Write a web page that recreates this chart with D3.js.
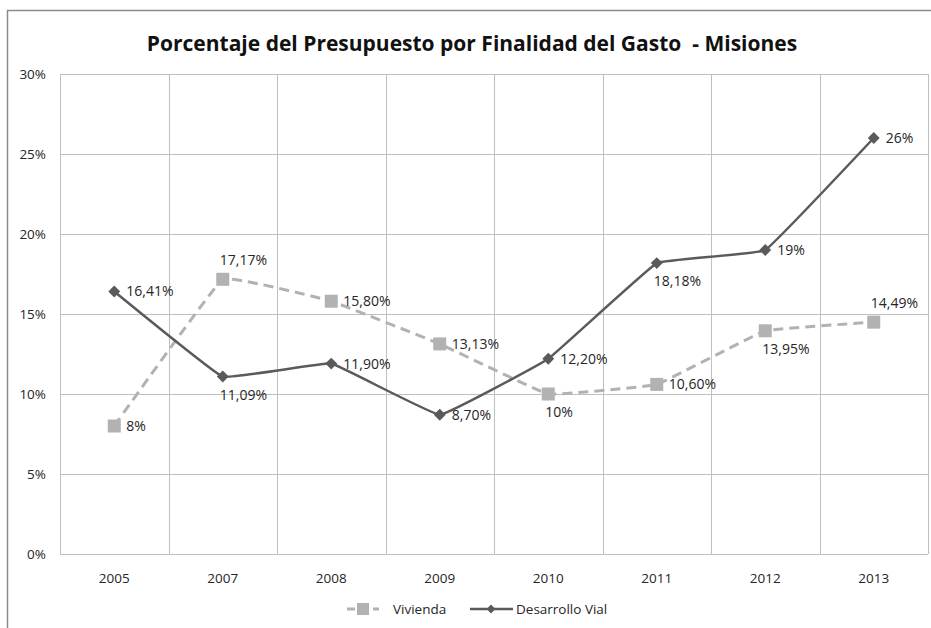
<!DOCTYPE html>
<html>
<head>
<meta charset="utf-8">
<script src="https://cdn.jsdelivr.net/npm/d3@7"></script>
<style>
  body { margin: 0; background: #fff; }
  svg { display: block; font-family: "Open Sans", "Noto Sans", sans-serif; }
</style>
</head>
<body>
<svg id="chart" width="931" height="628"></svg>
<script>
/* data */
const years = ["2005", "2007", "2008", "2009", "2010", "2011", "2012", "2013"];
const vivienda = [8, 17.17, 15.80, 13.13, 10, 10.60, 13.95, 14.49];
const vial = [16.41, 11.09, 11.90, 8.70, 12.20, 18.18, 19, 26];
const viviendaLabels = ["8%", "17,17%", "15,80%", "13,13%", "10%", "10,60%", "13,95%", "14,49%"];
const vialLabels = ["16,41%", "11,09%", "11,90%", "8,70%", "12,20%", "18,18%", "19%", "26%"];
// where each label sits relative to its point: r = right, a = above, b = below
const viviendaPos = ["r", "a", "r", "r", "b", "r", "b", "a"];
const vialPos = ["r", "b", "r", "r", "r", "b", "r", "r"];
const yTicks = [0, 5, 10, 15, 20, 25, 30];

const svg = d3.select("#chart");
const margin = { left: 60, top: 74, right: 3, bottom: 74 };
const W = 931, H = 628;

const x = d3.scaleBand().domain(years).range([margin.left, W - margin.right]);
const y = d3.scaleLinear().domain([0, 30]).range([H - margin.bottom, margin.top]);
const cx = d => x(d) + x.bandwidth() / 2;

const gridColor = "#c0c0c0";
const lightGray = "#b2b2b2";
const darkGray = "#5a5a5a";
const textColor = "#262626";

// outer chart frame
svg.append("path")
  .attr("d", `M7.5,${H} V10.5 H${W}`)
  .attr("fill", "none").attr("stroke", "#8c8c8c").attr("stroke-width", 1.5);

// title
svg.append("text")
  .attr("x", 472).attr("y", 51)
  .attr("text-anchor", "middle")
  .style("font-size", "21px").style("font-weight", 700)
  .attr("fill", "#111")
  .style("white-space", "pre")
  .text("Porcentaje del Presupuesto por Finalidad del Gasto  - Misiones");

// horizontal grid + y labels
svg.append("g").selectAll("line")
  .data(yTicks).join("line")
    .attr("x1", margin.left).attr("x2", W - margin.right)
    .attr("y1", d => Math.round(y(d)) + 0.5).attr("y2", d => Math.round(y(d)) + 0.5)
    .attr("stroke", gridColor);

svg.append("g").selectAll("text")
  .data(yTicks).join("text")
    .attr("x", 46).attr("y", d => y(d) + 5)
    .attr("text-anchor", "end")
    .style("font-size", "13.5px").attr("fill", textColor)
    .text(d => d + "%");

// vertical grid at band edges
const edges = years.map(d => x(d)).concat([W - margin.right]);
svg.append("g").selectAll("line")
  .data(edges).join("line")
    .attr("x1", d => Math.round(d) + 0.5).attr("x2", d => Math.round(d) + 0.5)
    .attr("y1", y(30)).attr("y2", y(0))
    .attr("stroke", gridColor);

// x labels
svg.append("g").selectAll("text")
  .data(years).join("text")
    .attr("x", d => cx(d)).attr("y", y(0) + 29)
    .attr("text-anchor", "middle")
    .style("font-size", "13.5px").attr("fill", textColor)
    .text(d => d);

const line = d3.line()
  .x((d, i) => cx(years[i]))
  .y(d => y(d))
  .curve(d3.curveCardinal.tension(0.8));

// Vivienda (dashed, squares)
svg.append("path")
  .attr("d", line(vivienda))
  .attr("fill", "none").attr("stroke", lightGray)
  .attr("stroke-width", 3).attr("stroke-dasharray", "10,6");

svg.append("g").selectAll("rect")
  .data(vivienda).join("rect")
    .attr("x", (d, i) => cx(years[i]) - 6.5).attr("y", d => y(d) - 6.5)
    .attr("width", 13).attr("height", 13)
    .attr("fill", lightGray);

// Desarrollo Vial (solid, diamonds)
svg.append("path")
  .attr("d", line(vial))
  .attr("fill", "none").attr("stroke", darkGray).attr("stroke-width", 2.5);

const diamond = d3.symbol().type(d3.symbolDiamond2).size(90);
svg.append("g").selectAll("path")
  .data(vial).join("path")
    .attr("d", diamond)
    .attr("transform", (d, i) => `translate(${cx(years[i])},${y(d)})`)
    .attr("fill", darkGray);

// data labels
function addLabels(vals, labels, pos) {
  svg.append("g").selectAll("text")
    .data(vals).join("text")
      .attr("x", (d, i) => cx(years[i]) + (pos[i] === "r" ? 12 : -3))
      .attr("y", (d, i) => {
        const p = pos[i];
        return y(d) + (p === "r" ? 5 : p === "a" ? -14 : 23);
      })
      .style("font-size", "14px").attr("fill", textColor)
      .text((d, i) => labels[i]);
}
addLabels(vivienda, viviendaLabels, viviendaPos);
addLabels(vial, vialLabels, vialPos);

// legend
const lg = svg.append("g").attr("transform", "translate(0,609)");
lg.append("line").attr("x1", 347).attr("x2", 379).attr("y1", 0).attr("y2", 0)
  .attr("stroke", lightGray).attr("stroke-width", 3).attr("stroke-dasharray", "8,5");
lg.append("rect").attr("x", 357).attr("y", -6).attr("width", 12).attr("height", 12).attr("fill", lightGray);
lg.append("text").attr("x", 393).attr("y", 5).style("font-size", "13.5px").attr("fill", textColor).text("Vivienda");
lg.append("line").attr("x1", 470).attr("x2", 513).attr("y1", 0).attr("y2", 0)
  .attr("stroke", darkGray).attr("stroke-width", 2.5);
lg.append("path").attr("d", d3.symbol().type(d3.symbolDiamond2).size(50)).attr("transform", "translate(491,0)").attr("fill", darkGray);
lg.append("text").attr("x", 516).attr("y", 5).style("font-size", "13.5px").attr("fill", textColor).text("Desarrollo Vial");
</script>
</body>
</html>
